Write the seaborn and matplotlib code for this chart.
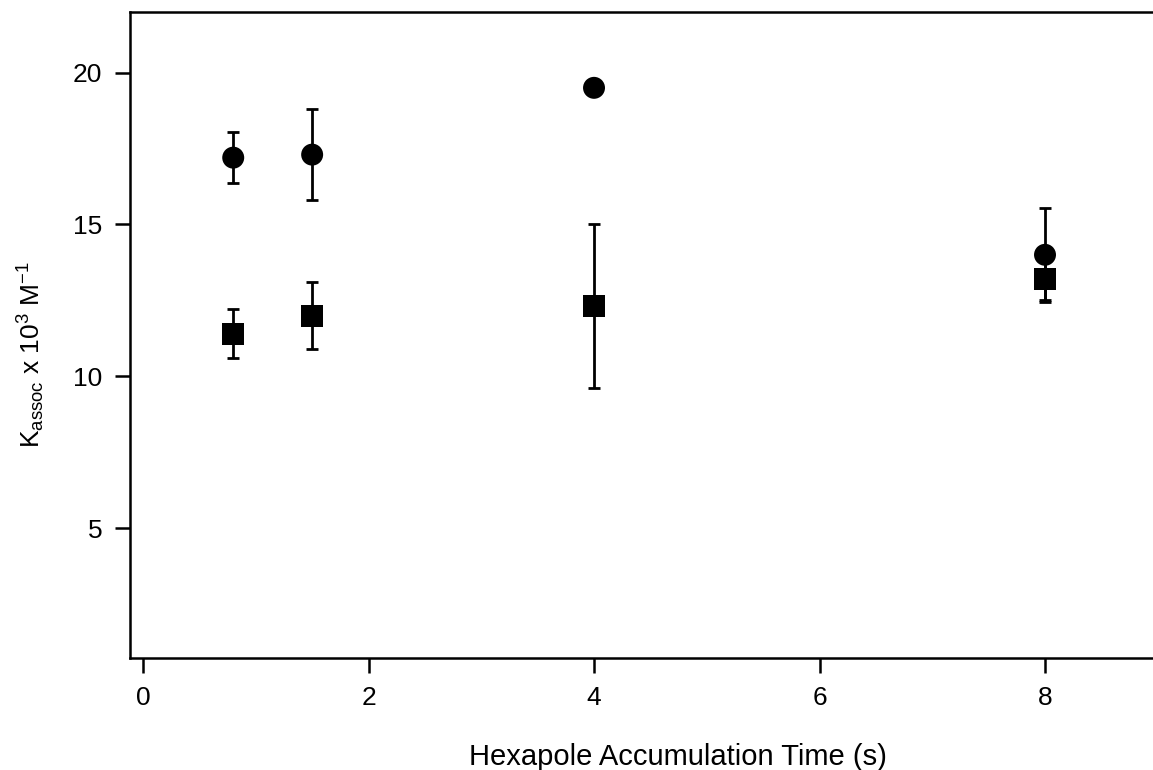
import matplotlib
matplotlib.use("Agg")
import matplotlib.pyplot as plt
import seaborn as sns
import pandas as pd

# Data
times = [0.8, 1.5, 4.0, 8.0]
circle_vals = [17.2, 17.3, 19.5, 14.0]
circle_err = [0.85, 1.5, 0.2, 1.55]
square_vals = [11.4, 12.0, 12.3, 13.2]
square_err = [0.8, 1.1, 2.7, 0.7]
x_ticks = [0, 2, 4, 6, 8]
y_ticks = [5, 10, 15, 20]

sns.set_style("ticks")
plt.rcParams['font.family'] = ['Liberation Sans', 'DejaVu Sans']
plt.rcParams['mathtext.fontset'] = 'custom'
plt.rcParams['mathtext.rm'] = 'Liberation Sans'
plt.rcParams['mathtext.it'] = 'Liberation Sans'
plt.rcParams['text.color'] = 'black'
plt.rcParams['axes.labelcolor'] = 'black'
plt.rcParams['xtick.color'] = 'black'
plt.rcParams['ytick.color'] = 'black'

df = pd.DataFrame({
    "time": times * 2,
    "K": circle_vals + square_vals,
    "err": circle_err + square_err,
    "series": ["circle"] * len(times) + ["square"] * len(times),
})

fig = plt.figure(figsize=(11.53, 7.70), dpi=100)
ax = fig.add_axes([0.1128, 0.1455, 0.95, 0.8390])

for s, d in df.groupby("series"):
    ax.errorbar(d["time"], d["K"], yerr=d["err"], fmt="none", ecolor="black",
                elinewidth=2.0, capsize=4.5, capthick=2.0, zorder=2)

sns.scatterplot(data=df, x="time", y="K", style="series",
                markers={"circle": "o", "square": "s"}, color="black",
                s=250, edgecolor="black", linewidth=0, legend=False, ax=ax, zorder=3)

ax.set_xlim(-0.115, 9.6)
ax.set_ylim(0.72, 22.0)
ax.set_xticks(x_ticks)
ax.set_yticks(y_ticks)
ax.tick_params(axis="both", labelsize=19, length=11, width=1.8, direction="out",
               pad=9, labelcolor="black", color="black")

for side in ["left", "top", "bottom"]:
    ax.spines[side].set_linewidth(1.8)
    ax.spines[side].set_color("black")
ax.spines["right"].set_visible(False)

ax.set_xlabel("Hexapole Accumulation Time (s)", fontsize=21, labelpad=24)
ax.set_ylabel(r"K$_{\mathrm{assoc}}$ x 10$^{3}$ M$^{-1}$", fontsize=19)
ax.yaxis.set_label_coords(-0.076, 0.469)

fig.savefig("out.png", dpi=100)
